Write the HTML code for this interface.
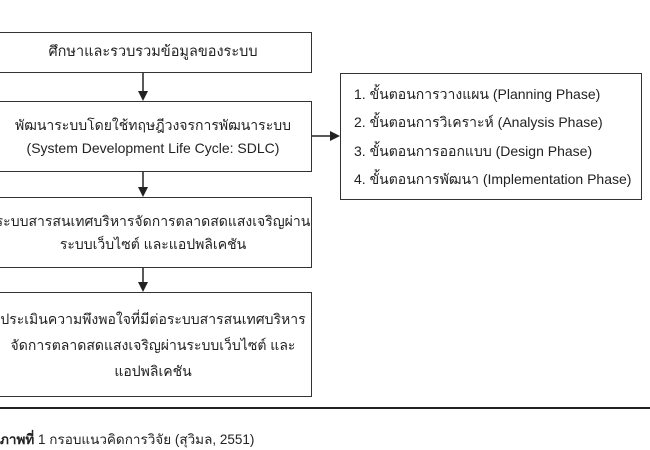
<!DOCTYPE html>
<html><head><meta charset="utf-8"><style>
body{margin:0;width:650px;height:450px;background:#fff;position:relative;overflow:hidden;font-family:"Liberation Sans","Noto Sans CJK SC",sans-serif;color:#222;font-size:14px}
.b{position:absolute;border:1.5px solid #333;box-sizing:border-box;display:flex;flex-direction:column;justify-content:center;align-items:center;text-align:center;line-height:23px;white-space:nowrap}
.t{position:absolute;white-space:nowrap}
</style></head><body>
<div class="b" style="left:-6px;top:32px;width:318px;height:41px;font-size:14.5px">ศึกษาและรวบรวมข้อมูลของระบบ</div>
<div class="b" style="left:-6px;top:101px;width:318px;height:71px">พัฒนาระบบโดยใช้ทฤษฎีวงจรการพัฒนาระบบ<br>(System Development Life Cycle: SDLC)</div>
<div class="b" style="left:-6px;top:197px;width:318px;height:71px">ระบบสารสนเทศบริหารจัดการตลาดสดแสงเจริญผ่าน<br>ระบบเว็บไซต์ และแอปพลิเคชัน</div>
<div class="b" style="left:-6px;top:292px;width:318px;height:105px;line-height:26px">ประเมินความพึงพอใจที่มีต่อระบบสารสนเทศบริหาร<br>จัดการตลาดสดแสงเจริญผ่านระบบเว็บไซต์ และ<br>แอปพลิเคชัน</div>
<div class="b" style="left:340px;top:73px;width:302px;height:127px;align-items:flex-start;padding-left:13px;text-align:left;line-height:28.5px;font-size:14px">
<div>1. ขั้นตอนการวางแผน (Planning Phase)</div>
<div>2. ขั้นตอนการวิเคราะห์ (Analysis Phase)</div>
<div>3. ขั้นตอนการออกแบบ (Design Phase)</div>
<div>4. ขั้นตอนการพัฒนา (Implementation Phase)</div></div>
<svg width="650" height="450" style="position:absolute;left:0;top:0">
<g stroke="#222" stroke-width="1.5" fill="#222">
<line x1="143" y1="73" x2="143" y2="93"/><polygon points="138,91 148,91 143,101" stroke="none"/>
<line x1="143" y1="172" x2="143" y2="189"/><polygon points="138,187 148,187 143,197" stroke="none"/>
<line x1="143" y1="268" x2="143" y2="284"/><polygon points="138,282 148,282 143,292" stroke="none"/>
<line x1="312" y1="136" x2="331" y2="136"/><polygon points="330,131 330,141 340,136" stroke="none"/>
<line x1="0" y1="408" x2="650" y2="408" stroke-width="2"/>
</g></svg>
<div class="t" style="left:0;top:428px;font-size:13.5px"><b>ภาพที่</b> 1 กรอบแนวคิดการวิจัย (สุวิมล, 2551)</div>
</body></html>
